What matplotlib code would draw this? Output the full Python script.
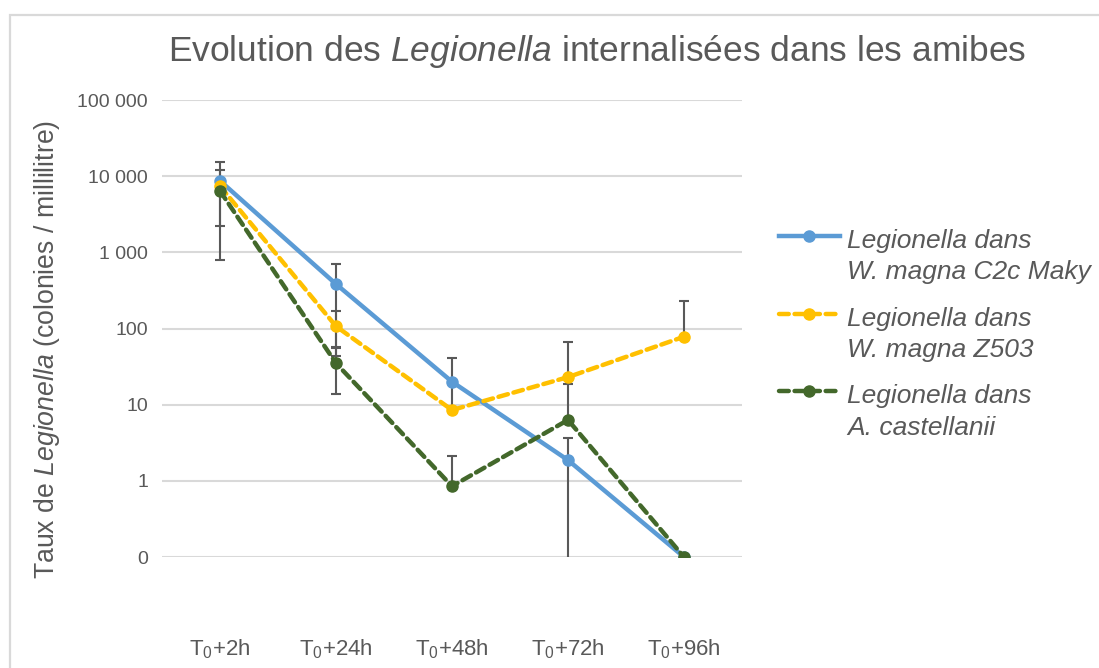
import numpy as np
import matplotlib.pyplot as plt
from matplotlib.patches import Rectangle
from matplotlib.legend_handler import HandlerLine2D

plt.rcParams['font.family'] = 'Liberation Sans'
plt.rcParams['mathtext.fontset'] = 'custom'
plt.rcParams['mathtext.rm'] = 'Liberation Sans'
plt.rcParams['mathtext.it'] = 'Liberation Sans:italic'

# Data
times = ['T$_0$+2h', 'T$_0$+24h', 'T$_0$+48h', 'T$_0$+72h', 'T$_0$+96h']
maky = [8700, 383, 20, 1.87, 0.1]
z503 = [7400, 107, 8.5, 23, 78]
castellanii = [6400, 35, 0.85, 6.3, 0.1]
maky_err = [6500, 325, 0, 1.8, 0]
z503_err = [0, 63, 32.5, 43, 151]
castellanii_err = [5600, 21, 1.25, 12.4, 0]

labels = ['Legionella dans\nW. magna C2c Maky',
          'Legionella dans\nW. magna Z503',
          'Legionella dans\nA. castellanii']
colors = ['#5b9bd5', '#ffc000', '#43682b']
styles = ['-', (0, (2.2, 1.3)), (0, (2.2, 1.3))]

grey = '#595959'
LEG_SIZE = 19
LEG_LS = 1.38


class FirstLineHandler(HandlerLine2D):
    # put the legend key next to the first line of a two-line label
    def create_artists(self, legend, orig_handle, xdescent, ydescent,
                       width, height, fontsize, trans):
        arts = super().create_artists(legend, orig_handle, xdescent, ydescent,
                                      width, height, fontsize, trans)
        for a in arts:
            a.set_ydata(np.asarray(a.get_ydata(), dtype=float) + 0.57 * fontsize * LEG_LS)
        return arts


fig = plt.figure(figsize=(10.99, 6.68), dpi=100)
# outer chart border (light grey, only top/left visible)
fig.patches.append(Rectangle((9.5 / 1099, -0.1), 1.2, 1 - 15 / 668 + 0.1,
                             transform=fig.transFigure, fill=False,
                             edgecolor='#d9d9d9', linewidth=1.6))

ax = fig.add_axes([162 / 1099, 1 - 557 / 668, 580 / 1099, 457 / 668])
x = np.arange(len(times))

for vals, errs, lab, col, ls in zip([maky, z503, castellanii],
                                    [maky_err, z503_err, castellanii_err],
                                    labels, colors, styles):
    vals = np.array(vals)
    errs = np.array(errs)
    ax.plot(x, vals, color=col, linestyle=ls, linewidth=3.2, marker='o',
            markersize=8, label=lab, zorder=3, dash_capstyle='round')
    # error bars: the minus side is dropped when it would fall below zero (log axis)
    idx = errs > 0
    minus = np.where(vals - errs > 0, errs, 0)
    ax.errorbar(x[idx], vals[idx], yerr=[minus[idx], errs[idx]], fmt='none',
                ecolor=grey, elinewidth=1.5, capsize=3.3, capthick=1.5, zorder=2)

ax.set_yscale('log')
ax.set_ylim(0.1, 100000)
ax.set_xlim(-0.5, 4.5)
ax.set_yticks([0.1, 1, 10, 100, 1000, 10000, 100000])
ax.set_yticklabels(['0', '1', '10', '100', '1 000', '10 000', '100 000'])
ax.minorticks_off()
ax.set_xticks(x)
ax.set_xticklabels(times)
ax.tick_params(axis='y', length=0, labelsize=14, labelcolor=grey, pad=10)
ax.tick_params(axis='x', length=0, labelsize=16, labelcolor=grey, pad=58)
ax.grid(axis='y', color='#d9d9d9', linewidth=1.5)
ax.set_axisbelow(True)
for s in ax.spines.values():
    s.set_visible(False)

ax.set_ylabel('Taux de $\\mathit{Legionella}$ (colonies / millilitre)',
              fontsize=19.2, color=grey, va='center')
ax.yaxis.set_label_coords((47 - 162) / 580, (557 - 349) / 457)
fig.text(0.543, 1 - 52 / 668, 'Evolution des $\\mathit{Legionella}$ internalisées dans les amibes',
         fontsize=25.5, color=grey, ha='center', va='center')

leg = ax.legend(loc='upper left', bbox_to_anchor=((779 - 162) / 580, (557 - 229) / 457),
                frameon=False, borderpad=0, borderaxespad=0,
                prop={'family': 'Liberation Sans', 'style': 'italic', 'size': LEG_SIZE},
                handlelength=2.3, handletextpad=0.28, labelspacing=0.85,
                handler_map={plt.Line2D: FirstLineHandler()})
for t in leg.get_texts():
    t.set_color(grey)
    t.set_linespacing(LEG_LS)

fig.savefig('out.png', dpi=100)
